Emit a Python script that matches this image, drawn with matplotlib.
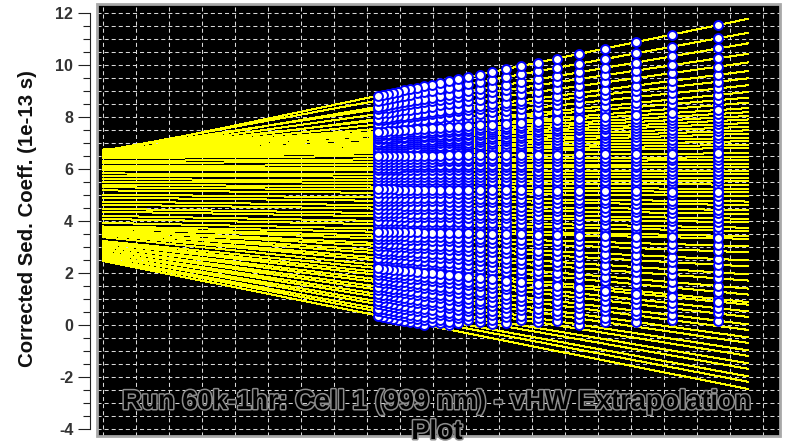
import numpy as np
import matplotlib.pyplot as plt
from matplotlib import patheffects
from matplotlib.patches import Rectangle
from matplotlib.ticker import MultipleLocator

plt.rcParams['axes.unicode_minus'] = False

# scan times (s) used in the van Holde-Weischet analysis
scan_times = [720, 840, 960, 1080, 1200, 1320, 1440, 1560, 1680, 1800,
              1920, 2040, 2160, 2280, 2400, 2520, 2640, 2760, 2880, 3000,
              3120, 3240, 3360, 3480, 3600]

# linear fits per boundary fraction: s = intercept + slope / sqrt(t)
intercepts = [
    # upper group
    6.56, 6.66, 6.50, 6.60, 6.68, 6.55, 6.64, 6.72, 6.58, 6.70, 6.62,
    # 6.5 - 7.4
    6.46, 6.49, 6.52, 6.54, 6.58, 6.60, 6.62, 6.68, 6.66, 6.72, 6.70, 6.75,
    # 5.3 - 6.5
    5.40, 5.52, 5.61, 5.74, 5.83, 5.96, 6.04, 6.12, 6.23, 6.31, 6.42,
    # 3.7 - 5.2
    3.93, 4.08, 4.20, 4.36, 4.47, 4.63, 4.75, 4.90, 5.02, 5.18, 5.30,
    # 2.3 - 3.6
    3.38, 3.46, 3.48, 3.54, 3.57, 3.63, 3.65, 3.72, 3.74, 3.79,
    # lower group
    2.46, 2.53, 2.57, 2.65, 2.69, 2.77, 2.81, 2.89, 2.93, 3.01, 3.05, 3.13, 3.17, 3.23,
]
slopes = [
    51.0, 53.4, 63.1, 67.1, 71.9, 82.4, 88.5, 95.0, 108.9, 116.2, 132.0,
    9.1, 11.5, 14.2, 17.2, 19.9, 22.8, 25.8, 27.9, 31.9, 33.8, 38.1, 40.8,
    -4.4, -3.1, -2.2, -1.9, -0.8, -0.6, 1.1, 1.7, 3.0, 3.8, 4.9,
    -13.3, -12.0, -11.7, -10.5, -9.8, -9.1, -8.4, -7.2, -6.9, -5.7, -4.9,
    -63.9, -58.5, -53.1, -46.8, -41.5, -35.2, -29.8, -23.6, -18.2, -12.1,
    -125.9, -120.6, -116.3, -110.9, -106.5, -101.2, -96.8, -91.5, -87.1,
    -81.8, -77.4, -72.1, -67.7, -62.6,
]
fit_x_max = 0.0391

title = "Run 60k-1hr: Cell 1 (999 nm) - vHW Extrapolation\nPlot"
ylabel = "Corrected Sed. Coeff. (1e-13 s)"

x_scan = 1.0 / np.sqrt(np.array(scan_times, dtype=float))

fig = plt.figure(figsize=(7.95, 4.41), dpi=100)
ax = fig.add_axes([97 / 795, 5 / 441, 683 / 795, 432 / 441])
ax.set_facecolor('black')
ax.set_xlim(-0.00036, 0.04103)
ax.set_ylim(-4.27, 12.35)

# extrapolation lines
xs = np.array([0.0, fit_x_max])
for a, b in zip(intercepts, slopes):
    ax.plot(xs, a + b * xs, color='#ffff00', lw=0.72, antialiased=False, zorder=2)

# boundary fraction points for every scan (negative s not plotted)
for a, b in zip(intercepts, slopes):
    s = a + b * x_scan
    keep = s >= 0
    ax.plot(x_scan[keep], s[keep], ls='none', marker='o', ms=6.4,
            mfc='white', mec='#0000ff', mew=1.4, zorder=3)

# grid
ax.xaxis.set_major_locator(MultipleLocator(0.002))
ax.yaxis.set_major_locator(MultipleLocator(2))
ax.yaxis.set_minor_locator(MultipleLocator(0.5))
ax.set_axisbelow(True)
grid_kw = dict(color='#d8d8d8', lw=0.75, ls=(0, (3.9, 2.9)))
ax.grid(axis='y', which='both', **grid_kw)
ax.grid(axis='x', which='major', **grid_kw)

# axes styling
for side in ('top', 'right', 'bottom'):
    ax.spines[side].set_visible(False)
ax.spines['left'].set_position(('outward', 5))
ax.spines['left'].set_bounds(-4, 12)
ax.spines['left'].set_color('#202020')
ax.tick_params(axis='x', length=0, labelbottom=False)
ax.tick_params(axis='y', which='major', length=8.6, width=0.8, color='#202020',
               pad=3.5, labelsize=11.5, labelcolor='#333333')
ax.tick_params(axis='y', which='minor', length=5, width=0.8, color='#202020')
for lab in ax.get_yticklabels():
    lab.set_fontweight('bold')
    lab.set_family('Liberation Sans')

ax.add_patch(Rectangle((0, 0), 1, 1, transform=ax.transAxes, fill=False,
                       ec='#a8a8a8', lw=2, clip_on=False, zorder=5))

fig.text(28 / 795, 1 - 219 / 441, ylabel, rotation=90, ha='center', va='center',
         fontsize=14.7, fontweight='bold', family='Liberation Sans', color='#111111')

fig.text(437 / 795, 1 - 417 / 441, title, ha='center', va='center',
         fontsize=19.5, fontweight='bold', family='Liberation Sans', color='black',
         linespacing=1.2, zorder=10,
         path_effects=[patheffects.withStroke(linewidth=2.2, foreground='#8c8c8c')])

fig.savefig('out.png', dpi=100, facecolor='white')
